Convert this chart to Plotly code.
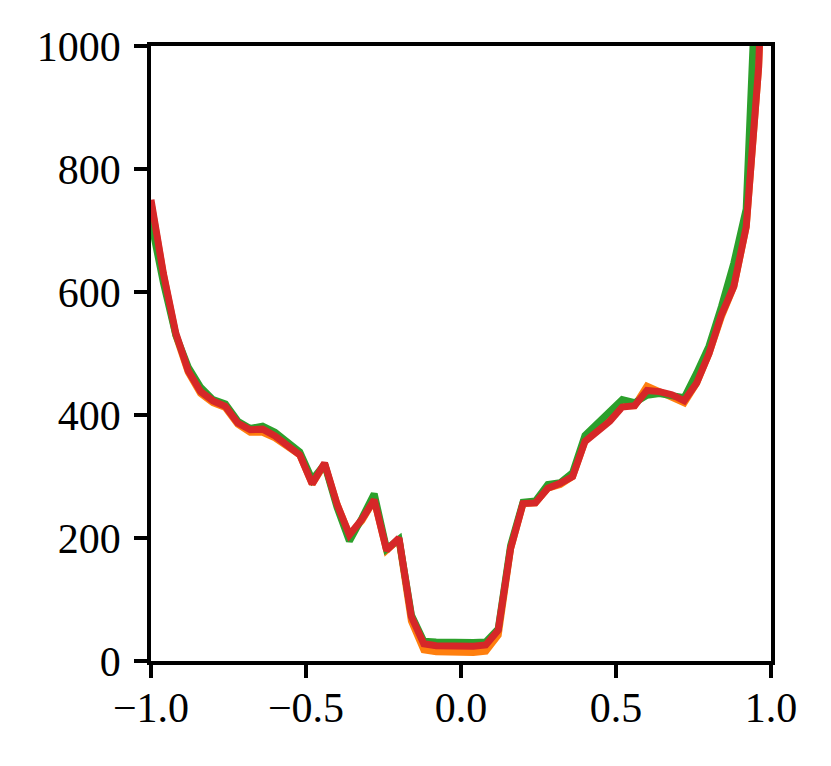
import plotly.graph_objects as go

x_vals = [round(-1 + 0.04 * i, 2) for i in range(51)]

orange_vals = [745, 628, 530, 470, 435, 420, 412, 385, 372, 372,
               363, 350, 335, 288, 320, 255, 205, 228, 262, 180,
               198, 65, 18, 15, 14, 14, 14, 16, 42, 183,
               256, 257, 281, 287, 300, 358, 375, 392, 415, 415,
               447, 438, 432, 420, 452, 500, 560, 609, 706, 965,
               1500]

green_vals = [715, 615, 530, 478, 445, 425, 418, 390, 378, 382,
              372, 357, 340, 295, 320, 250, 195, 232, 272, 182,
              198, 75, 32, 31, 30, 30, 30, 31, 52, 188,
              258, 260, 287, 290, 306, 367, 386, 404, 425, 420,
              432, 435, 431, 428, 468, 512, 576, 647, 735, 1150,
              1700]

red_vals = [750, 630, 533, 472, 438, 423, 414, 387, 376, 377,
            366, 351, 335, 288, 322, 255, 205, 230, 262, 180,
            200, 72, 28, 25, 24, 24, 24, 26, 50, 183,
            256, 257, 281, 289, 300, 357, 374, 390, 413, 415,
            440, 438, 433, 423, 452, 500, 563, 609, 706, 965,
            1500]

x_ticks = [-1.0, -0.5, 0.0, 0.5, 1.0]
y_ticks = [0, 200, 400, 600, 800, 1000]

series = [
    ("orange", orange_vals, "#ff7f0e"),
    ("green", green_vals, "#2ca02c"),
    ("red", red_vals, "#d62728"),
]

fig = go.Figure()
for name, vals, color in series:
    fig.add_trace(go.Scatter(x=x_vals, y=vals, mode="lines", name=name,
                             line=dict(color=color, width=7)))

font = dict(family="Liberation Serif, Times New Roman, serif", size=42, color="black")
axis_common = dict(showline=True, linecolor="black", linewidth=3.5, mirror=True,
                   ticks="outside", ticklen=13, tickwidth=3.5, tickcolor="black",
                   showgrid=False, zeroline=False, tickfont=font)

fig.update_xaxes(range=[-1, 1], tickvals=x_ticks, tickformat=".1f",
                 ticklabelstandoff=-6, **axis_common)
fig.update_yaxes(range=[0, 1000], tickvals=y_ticks, tickformat="d",
                 ticklabelstandoff=5, **axis_common)

fig.update_layout(width=823, height=758, showlegend=False,
                  paper_bgcolor="white", plot_bgcolor="white",
                  margin=dict(l=143, r=60, t=38, b=105),
                  font=font)

fig.write_html("out.html")
